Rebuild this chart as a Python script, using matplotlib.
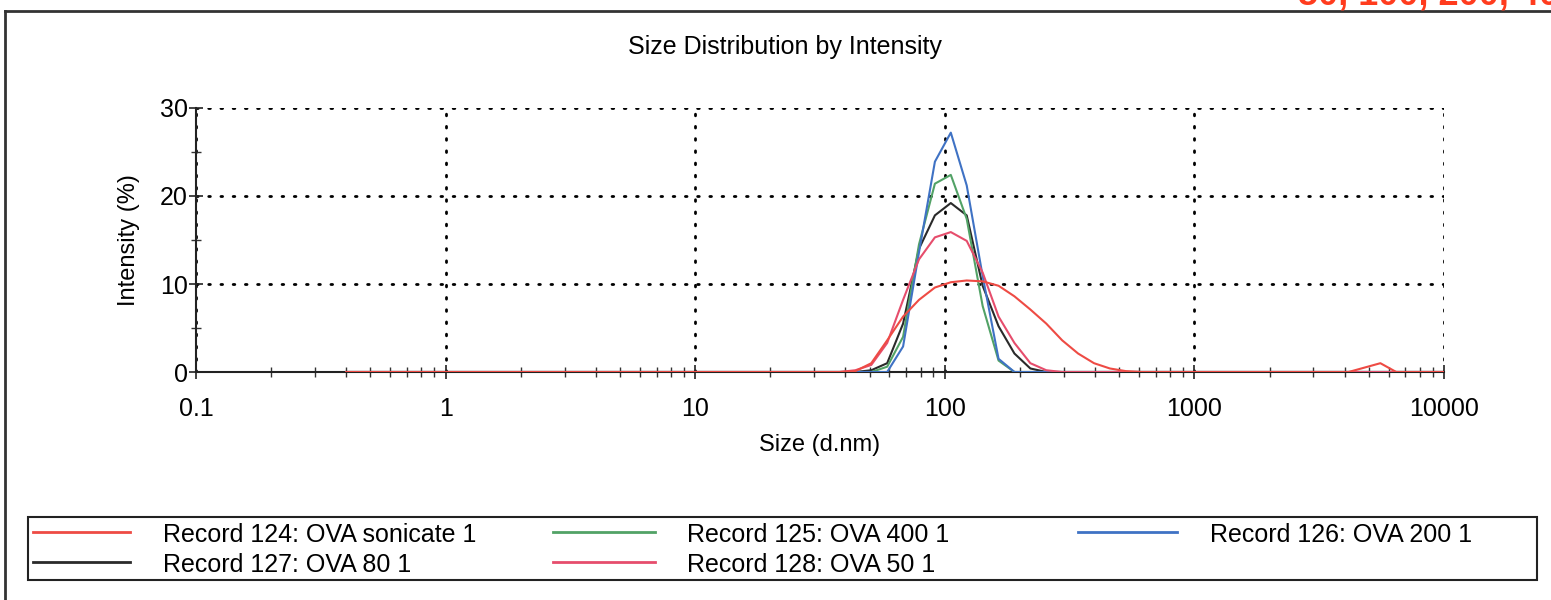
import matplotlib
matplotlib.use("Agg")
import matplotlib.pyplot as plt
from matplotlib.lines import Line2D
from matplotlib.patches import Rectangle
from matplotlib.ticker import LogLocator, FixedLocator, NullFormatter

plt.rcParams["font.family"] = ["Liberation Sans", "DejaVu Sans"]

# size classes (d.nm) used by the instrument, only the ones that matter here
sizes = [0.4, 37.84, 43.82, 50.75, 58.77, 68.06, 78.82, 91.28, 105.7, 122.4,
         141.8, 164.2, 190.1, 220.2, 255.0, 295.3, 342.0, 396.1, 458.7, 531.2,
         615.1, 712.4, 4145, 4801, 5560, 6439, 10000]

ova_sonicate = [0, 0, 0.1, 1.0, 3.6, 6.3, 8.2, 9.6, 10.2, 10.4,
                10.3, 9.8, 8.6, 7.1, 5.5, 3.6, 2.1, 1.0, 0.4, 0.1,
                0, 0, 0, 0.5, 1.0, 0, 0]
ova_400 = [0, 0, 0, 0, 0.6, 4.0, 14.5, 21.4, 22.4, 17.4,
           7.5, 1.3, 0, 0, 0, 0, 0, 0, 0, 0,
           0, 0, 0, 0, 0, 0, 0]
ova_200 = [0, 0, 0, 0, 0, 2.9, 13.6, 23.9, 27.2, 21.2,
           10.9, 1.5, 0, 0, 0, 0, 0, 0, 0, 0,
           0, 0, 0, 0, 0, 0, 0]
ova_80 = [0, 0, 0, 0.2, 1.0, 5.5, 14.0, 17.8, 19.2, 17.8,
          9.8, 5.2, 2.1, 0.4, 0, 0, 0, 0, 0, 0,
          0, 0, 0, 0, 0, 0, 0]
ova_50 = [0, 0, 0.2, 0.8, 3.3, 8.2, 12.8, 15.3, 15.9, 14.9,
          11.3, 6.3, 3.3, 1.0, 0.2, 0, 0, 0, 0, 0,
          0, 0, 0, 0, 0, 0, 0]

labels = ["Record 124: OVA sonicate 1", "Record 125: OVA 400 1",
          "Record 126: OVA 200 1", "Record 127: OVA 80 1",
          "Record 128: OVA 50 1"]
colors = ["#ee4b44", "#52a266", "#3f72c4", "#2a2a2a", "#e64d6c"]
series = [ova_sonicate, ova_400, ova_200, ova_80, ova_50]
zorders = [6, 3, 4, 2, 5]

x_ticks = [0.1, 1, 10, 100, 1000, 10000]
x_ticklabels = ["0.1", "1", "10", "100", "1000", "10000"]
y_ticks = [0, 10, 20, 30]

W, H = 1551, 600
fig = plt.figure(figsize=(W / 100, H / 100), dpi=100)
ax = fig.add_axes([196 / W, 1 - 372 / H, 1248 / W, 264 / H])


def px(x, y):
    # pixel position (from top-left) -> figure fraction
    return x / W, 1 - y / H


for vals, lab, col, z in zip(series, labels, colors, zorders):
    ax.plot(sizes, vals, color=col, lw=1.5, zorder=z, label=lab)

ax.set_xscale("log")
ax.set_xlim(0.1, 10000)
ax.set_ylim(0, 30)
ax.set_xticks(x_ticks)
ax.set_xticklabels(x_ticklabels)
ax.xaxis.set_minor_locator(LogLocator(base=10, subs=range(2, 10)))
ax.xaxis.set_minor_formatter(NullFormatter())
ax.set_yticks(y_ticks)
ax.yaxis.set_minor_locator(FixedLocator([5, 15, 25]))

ax.tick_params(which="major", direction="inout", length=10, width=1.2,
               labelsize=18, color="#222222")
ax.tick_params(which="minor", direction="inout", length=7, width=1.0,
               color="#333333")
ax.tick_params(axis="x", pad=13)
ax.tick_params(axis="y", pad=1)

for s in ["top", "right"]:
    ax.spines[s].set_visible(False)
for s in ["left", "bottom"]:
    ax.spines[s].set_linewidth(1.5)
    ax.spines[s].set_color("#222222")

ax.grid(True, which="major", color="black", lw=2,
        linestyle=(0, (0.6, 3.8)), dash_capstyle="round")
ax.set_axisbelow(True)

fig.text(*px(785, 47), "Size Distribution by Intensity",
         ha="center", va="center", fontsize=18)
fig.text(*px(820, 445), "Size (d.nm)", ha="center", va="center",
         fontsize=17)
fig.text(*px(129, 240), "Intensity (%)", ha="center", va="center",
         rotation=90, fontsize=17)

# legend box drawn by hand so the columns sit where the report puts them
x0, y0 = px(28, 580)
x1, y1 = px(1537, 517)
fig.add_artist(Rectangle((x0, y0), x1 - x0, y1 - y0, transform=fig.transFigure,
                         fill=False, edgecolor="#222222", lw=1.5))
col_lines = [(33, 130), (553, 655), (1078, 1177)]
col_text = [163, 687, 1210]
row_y = [535, 565]
slots = [(0, 0), (0, 1), (0, 2), (1, 0), (1, 1)]
for (r, c), lab, col in zip(slots, labels, colors):
    la, lb = col_lines[c]
    fig.add_artist(Line2D([la / W, lb / W], [1 - (row_y[r] - 3) / H] * 2,
                          transform=fig.transFigure, color=col, lw=2))
    fig.text(*px(col_text[c], row_y[r]), lab, ha="left", va="center",
             fontsize=18)

# page frame of the scanned report
fig.add_artist(Line2D([5 / W, 1], [1 - 11 / H] * 2,
                      transform=fig.transFigure, color="#333333", lw=2))
fig.add_artist(Line2D([5 / W, 5 / W], [0, 1 - 11 / H],
                      transform=fig.transFigure, color="#333333", lw=2))

# note that runs off the top edge of the scan
fig.text(*px(1298, 5), "50, 100, 200, 400", color="#ff3c1e",
         fontsize=26, fontweight="bold", ha="left", va="baseline")

fig.savefig("out.png", dpi=100, facecolor="white")
